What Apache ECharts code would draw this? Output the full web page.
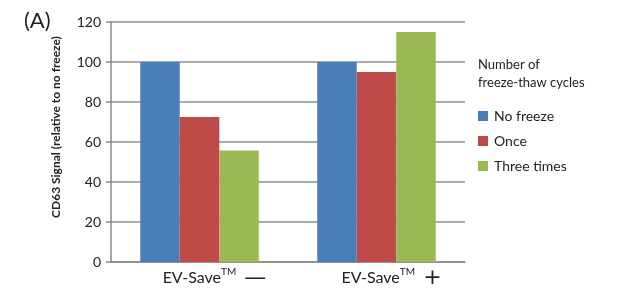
<!DOCTYPE html>
<html>
<head>
<meta charset="utf-8">
<script src="https://cdn.jsdelivr.net/npm/echarts@6/dist/echarts.min.js"></script>
<style>
  html, body { margin: 0; padding: 0; background: #fff; }
  #chart { width: 617px; height: 290px; }
</style>
</head>
<body>
<div id="chart"></div>
<script>
// data
var categories = ['minus', 'plus'];
var noFreeze = [100, 100];
var once = [72.5, 95];
var threeTimes = [55.8, 115];
var yTicks = [0, 20, 40, 60, 80, 100, 120];

var chart = echarts.init(document.getElementById('chart'));
var font = 'Lato, "Open Sans", sans-serif';

var option = {
    animation: false,
    textStyle: { fontFamily: font },
    title: [
        {
            text: '(A)',
            left: 19,
            top: 5,
            textStyle: { fontSize: 22, fontWeight: 'normal', color: '#222', fontFamily: font }
        },
        {
            text: 'Number of\nfreeze-thaw cycles',
            left: 473,
            top: 51,
            textStyle: { fontSize: 13, fontWeight: 'normal', color: '#222', lineHeight: 18, fontFamily: font }
        }
    ],
    legend: {
        orient: 'vertical',
        left: 473,
        top: 104,
        itemWidth: 10,
        itemHeight: 10,
        itemGap: 11,
        icon: 'rect',
        textStyle: { fontSize: 14, color: '#222', padding: [0, 0, 0, 1] },
        data: ['No freeze', 'Once', 'Three times']
    },
    grid: {
        left: 111,
        right: 152,
        top: 22,
        bottom: 28
    },
    xAxis: {
        type: 'category',
        data: categories,
        axisLine: { lineStyle: { color: '#8a8a8a', width: 1.5 } },
        axisTick: { show: false },
        axisLabel: {
            interval: 0,
            hideOverlap: false,
            margin: 5,
            padding: [0, 0, 0, 30],
            formatter: function (v) {
                return '{a|EV-Save}{s|TM}{a|  }{b|' + (v === 'minus' ? '\u2014' : '+') + '}';
            },
            rich: {
                a: { fontSize: 16, color: '#222', fontFamily: font },
                s: { fontSize: 10, color: '#222', fontFamily: font, verticalAlign: 'top', padding: [0, 0, 8, 0] },
                b: { fontSize: 22, color: '#222', fontFamily: '"DejaVu Sans", sans-serif' }
            }
        }
    },
    yAxis: {
        type: 'value',
        min: 0,
        max: 120,
        interval: 20,
        name: 'CD63 Signal (relative to no freeze)',
        nameLocation: 'middle',
        nameGap: 49,
        nameTextStyle: { fontSize: 12, fontWeight: 'bold', color: '#222', padding: [0, 0, 0, 30] },
        axisLine: { show: true, lineStyle: { color: '#8a8a8a', width: 1.5 } },
        axisTick: { show: true, length: 5, lineStyle: { color: '#8a8a8a', width: 1.5 } },
        axisLabel: {
            fontSize: 14,
            color: '#222',
            margin: 10,
            formatter: function (v) { return yTicks.indexOf(v) >= 0 ? String(v) : ''; }
        },
        splitLine: { lineStyle: { color: '#8f8f8f', width: 1.5 } }
    },
    series: [
        {
            name: 'No freeze',
            type: 'bar',
            data: noFreeze,
            barWidth: 39.5,
            barGap: '0%',
            itemStyle: { color: '#4a7ebb' }
        },
        {
            name: 'Once',
            type: 'bar',
            data: once,
            barWidth: 39.5,
            barGap: '0%',
            itemStyle: { color: '#be4b48' }
        },
        {
            name: 'Three times',
            type: 'bar',
            data: threeTimes,
            barWidth: 39.5,
            barGap: '0%',
            itemStyle: { color: '#98b954' }
        }
    ]
};

chart.setOption(option);
</script>
</body>
</html>
